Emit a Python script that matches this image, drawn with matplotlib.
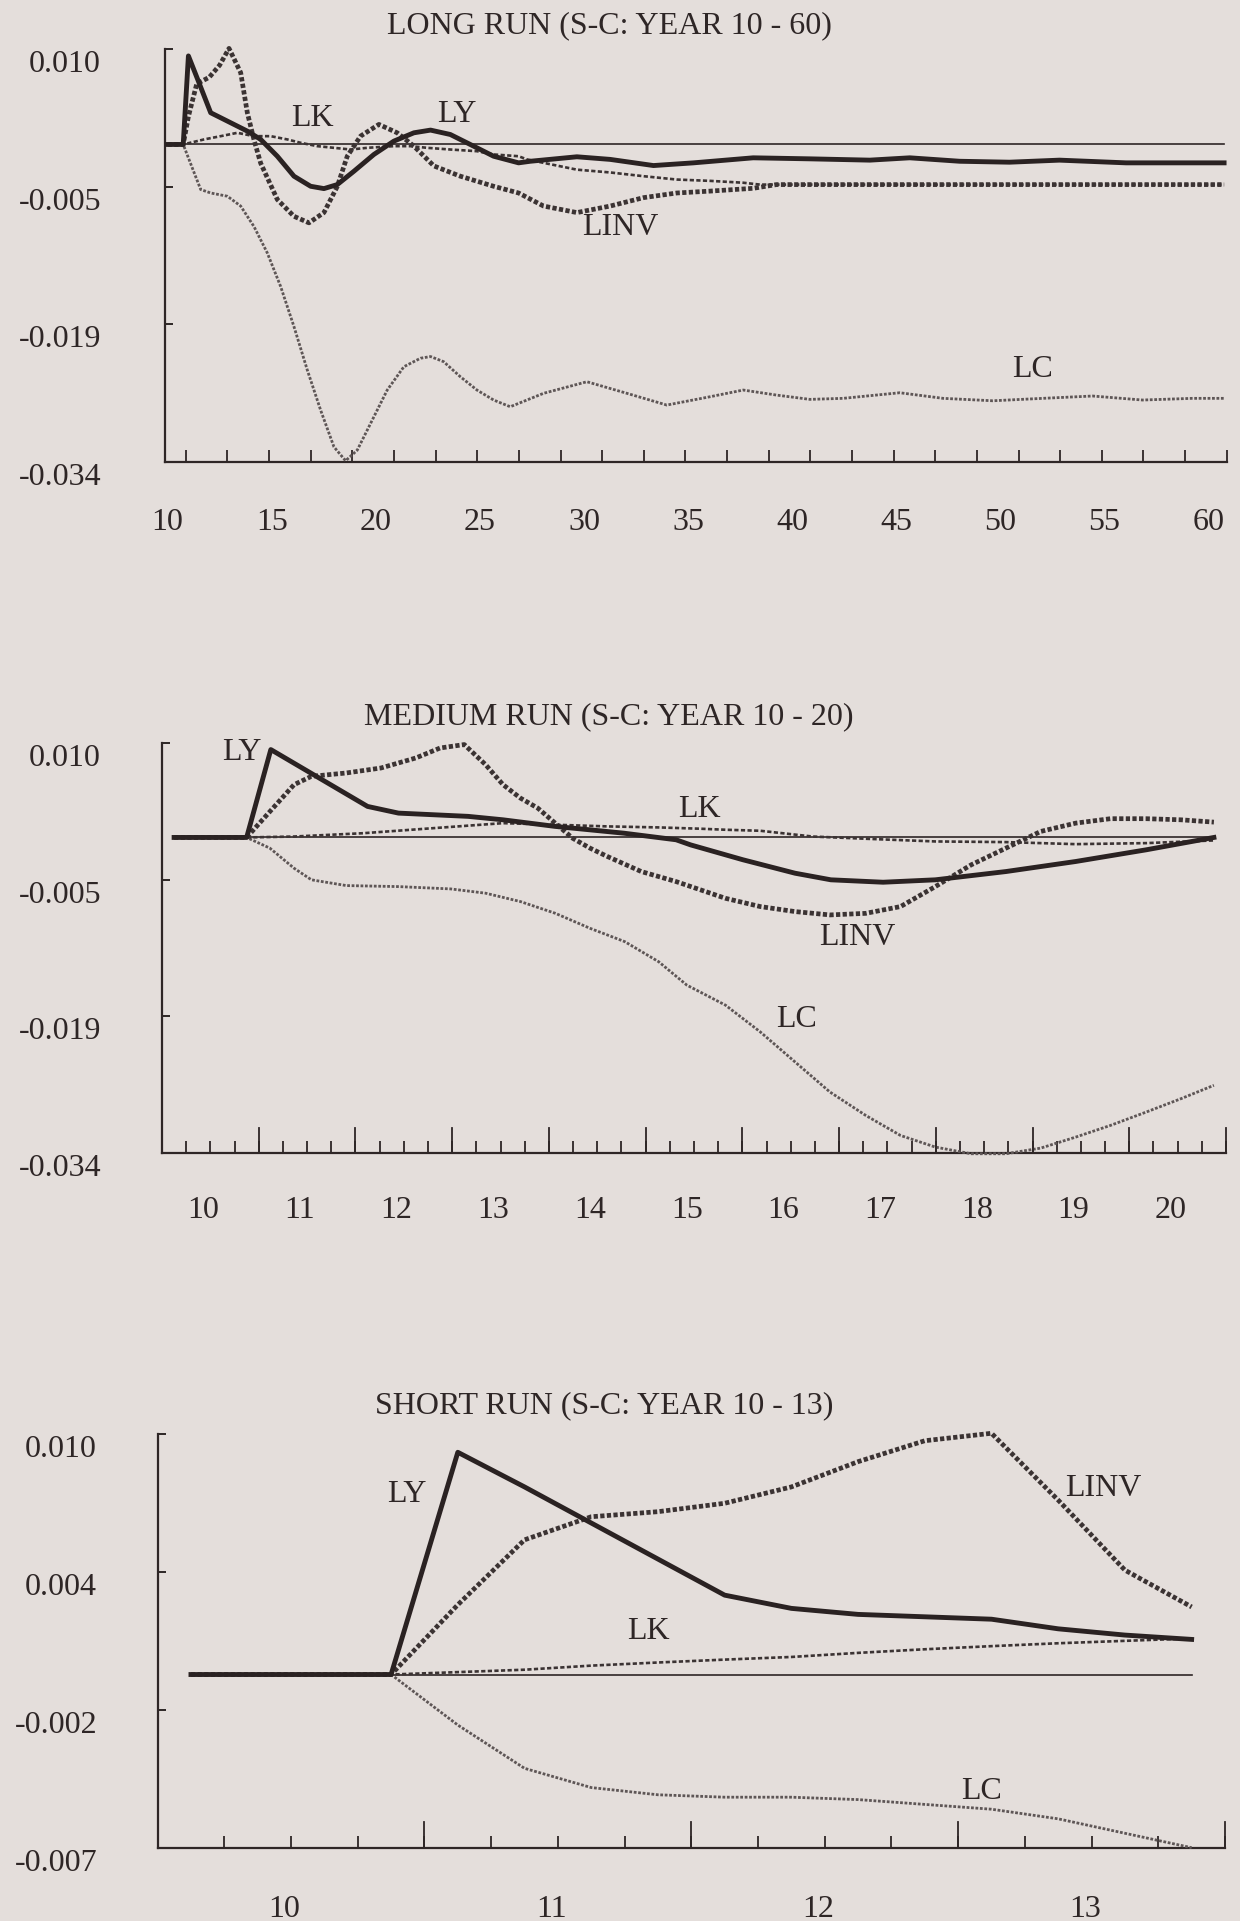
import numpy as np
import matplotlib
matplotlib.use("Agg")
import matplotlib.pyplot as plt
from matplotlib.transforms import ScaledTranslation

plt.rcParams['font.family'] = ['Liberation Serif', 'DejaVu Serif']

BG = '#e4dedb'
INK = '#2e2626'

# ---------------- DATA ----------------
# Long run (years 10-60)
long_title = "LONG RUN (S-C: YEAR 10 - 60)"
long_ly_x = [10.0, 10.75, 11.0, 11.44, 12.07, 12.875, 13.83, 14.47, 15.27, 16.07, 16.87, 17.51,
             18.15, 18.95, 19.91, 20.87, 21.83, 22.63, 23.58, 24.54, 25.66, 26.86, 27.42, 29.66,
             31.26, 33.34, 35.26, 38.13, 40.85, 43.73, 45.65, 48.05, 50.44, 52.84, 56.04, 60.75]
long_ly = [0, 0, 0.00949, 0.0070, 0.0034, 0.0025, 0.00143, 0.00054, -0.00126, -0.0034, -0.00448,
           -0.00473, -0.0043, -0.00287, -0.00107, 0.00036, 0.00125, 0.00154, 0.00107, 0.0, -0.00126,
           -0.00197, -0.0018, -0.00132, -0.0016, -0.00226, -0.00197, -0.00143, -0.00154, -0.00168,
           -0.00143, -0.0018, -0.0019, -0.00168, -0.00197, -0.00197]
long_linv_x = [10.0, 10.75, 11.0, 11.4, 12.0, 12.5, 12.95, 13.51, 13.83, 14.15, 14.47, 15.27, 16.07,
               16.79, 17.51, 18.15, 18.63, 19.27, 20.15, 21.03, 21.83, 22.79, 24.06, 25.66, 26.86,
               28.06, 29.66, 31.26, 32.86, 34.46, 36.05, 38.13, 39.25, 43.73, 50.0, 55.0, 60.75]
long_linv = [0, 0, 0.003, 0.0065, 0.0072, 0.0085, 0.0103, 0.0077, 0.0034, 0.0005, -0.002, -0.0059,
             -0.0077, -0.0084, -0.0073, -0.0045, -0.00126, 0.0009, 0.00215, 0.00125, -0.00018,
             -0.0023, -0.0034, -0.00448, -0.0052, -0.0066, -0.0073, -0.0066, -0.0057, -0.0052,
             -0.0050, -0.0047, -0.0043, -0.0043, -0.0043, -0.0043, -0.0043]
long_lk_x = [10.0, 10.75, 11.75, 12.55, 13.35, 14.15, 14.95, 15.75, 16.39, 17.19, 17.99, 18.79, 19.59,
             20.87, 21.67, 22.47, 23.58, 24.86, 25.66, 26.86, 27.26, 28.06, 29.66, 31.26, 32.86,
             34.46, 36.05, 37.65, 38.45, 45.0, 50.0, 55.0, 60.75]
long_lk = [0, 0, 0.00054, 0.00089, 0.00125, 0.00089, 0.00089, 0.00054, 0.00018, -0.00018, -0.00036,
           -0.00054, -0.00036, -0.00018, -0.00018, -0.00036, -0.00054, -0.00072, -0.00107, -0.00126,
           -0.0016, -0.00197, -0.0027, -0.003, -0.0034, -0.00376, -0.0039, -0.0041, -0.0043,
           -0.0043, -0.0043, -0.0043, -0.0043]
long_lc_x = [10.0, 10.75, 11.27, 11.59, 12.07, 12.875, 13.51, 14.15, 14.79, 15.43, 16.07, 16.71, 17.35,
             17.99, 18.55, 19.11, 19.75, 20.55, 21.35, 22.15, 22.63, 23.26, 24.06, 24.86, 25.66,
             26.46, 28.06, 30.14, 32.06, 33.98, 36.05, 37.65, 39.25, 40.85, 42.45, 45.17, 47.25,
             49.64, 52.04, 54.43, 56.83, 59.23, 60.75]
long_lc = [0, 0, -0.0030, -0.00483, -0.0052, -0.00555, -0.0066, -0.0088, -0.01163, -0.01522, -0.01952,
           -0.02417, -0.02847, -0.03241, -0.0339, -0.03276, -0.0299, -0.02632, -0.02382, -0.02291,
           -0.02273, -0.02328, -0.02489, -0.02632, -0.02739, -0.02811, -0.02667, -0.02543, -0.02667,
           -0.02793, -0.02704, -0.02632, -0.02686, -0.02732, -0.02721, -0.02661, -0.02721, -0.02747,
           -0.02721, -0.02696, -0.02739, -0.02721, -0.02721]
long_xlabels = [10, 15, 20, 25, 30, 35, 40, 45, 50, 55, 60]
long_ylabels = ['-0.034', '-0.019', '-0.005', '0.010']

# Medium run (years 10-20, quarterly)
med_title = "MEDIUM RUN (S-C: YEAR 10 - 20)"
med_ly_x = [10.0, 10.75, 11.0, 12.0, 12.32, 13.04, 13.40, 13.94, 14.65, 15.19, 15.34, 15.88, 16.42,
            16.79, 17.33, 17.87, 18.60, 19.32, 20.05, 20.75]
med_ly = [0, 0, 0.00946, 0.00334, 0.00262, 0.00227, 0.0019, 0.00119, 0.00046, -0.00025, -0.0008,
          -0.0024, -0.00385, -0.00456, -0.00482, -0.00456, -0.00367, -0.00259, -0.00133, 0.0]
med_linv_x = [10.0, 10.75, 11.0, 11.24, 11.42, 11.78, 12.14, 12.5, 12.75, 13.0, 13.22, 13.4, 13.58,
              13.76, 13.94, 14.12, 14.3, 14.48, 14.83, 15.19, 15.7, 16.06, 16.42, 16.78, 17.15,
              17.51, 17.87, 18.24, 18.6, 18.96, 19.32, 19.68, 20.05, 20.41, 20.75]
med_linv = [0, 0, 0.0029, 0.00568, 0.00658, 0.00694, 0.00748, 0.00856, 0.00963, 0.0100, 0.00784,
            0.00569, 0.00424, 0.00316, 0.00154, -0.00008, -0.00115, -0.00205, -0.00367, -0.00475,
            -0.00655, -0.00744, -0.00798, -0.00834, -0.00817, -0.00744, -0.00529, -0.00295,
            -0.00115, 0.00065, 0.00154, 0.00202, 0.00202, 0.0019, 0.00165]
med_lk_x = [10.0, 10.75, 11.24, 11.96, 12.68, 13.4, 13.94, 14.48, 15.01, 15.44, 15.7, 16.06, 16.6,
            17.15, 17.87, 18.6, 19.32, 20.05, 20.75]
med_lk = [0, 0, 0.0001, 0.00046, 0.001, 0.00154, 0.00137, 0.00119, 0.00108, 0.00094, 0.00083,
          0.00072, 0.0001, -0.00014, -0.00043, -0.0005, -0.00072, -0.00061, -0.00032]
med_lc_x = [10.0, 10.75, 10.99, 11.24, 11.42, 11.78, 12.32, 12.86, 13.22, 13.58, 13.94, 14.3, 14.66,
            15.01, 15.3, 15.7, 16.06, 16.42, 16.78, 17.15, 17.51, 17.87, 18.24, 18.6, 18.96, 19.32,
            19.68, 20.05, 20.41, 20.75]
med_lc = [0, 0, -0.00115, -0.00331, -0.00456, -0.00518, -0.00529, -0.00554, -0.006, -0.0069,
          -0.00816, -0.00978, -0.01122, -0.01338, -0.01589, -0.01805, -0.02093, -0.02417, -0.0274,
          -0.02992, -0.03208, -0.03333, -0.03405, -0.03405, -0.03344, -0.03226, -0.031, -0.02956,
          -0.02812, -0.02668]
med_xlabels = [10, 11, 12, 13, 14, 15, 16, 17, 18, 19, 20]
med_ylabels = ['-0.034', '-0.019', '-0.005', '0.010']

# Short run (years 10-13, quarterly 10Q1 .. 13Q4)
short_title = "SHORT RUN (S-C: YEAR 10 - 13)"
short_x = [10.0, 10.25, 10.5, 10.75, 11.0, 11.25, 11.5, 11.75, 12.0, 12.25, 12.5, 12.75,
           13.0, 13.25, 13.5, 13.75]
short_ly = [0, 0, 0, 0, 0.00924, 0.0078, 0.0063, 0.0048, 0.0033, 0.00275, 0.0025, 0.0024,
            0.0023, 0.0019, 0.00164, 0.00146]
short_linv = [0, 0, 0, 0, 0.0029, 0.0056, 0.00656, 0.00677, 0.00712, 0.0078, 0.00885, 0.00972,
              0.01003, 0.00725, 0.00434, 0.00281]
short_lk = [0, 0, 0, 0, 0.0001, 0.0002, 0.00037, 0.0005, 0.00062, 0.00073, 0.0009, 0.00105,
            0.00118, 0.0013, 0.0014, 0.0015]
short_lc = [0, 0, 0, 0, -0.0021, -0.0039, -0.0047, -0.0050, -0.0051, -0.0051, -0.0052, -0.0054,
            -0.0056, -0.0060, -0.0066, -0.0072]
short_xlabels = [10, 11, 12, 13]
short_ylabels = ['-0.007', '-0.002', '0.004', '0.010']

series_names = ['LY', 'LINV', 'LK', 'LC']

# ---------------- STYLE ----------------
STYLES = {
    'LC':   dict(color='#5e5656', lw=2.0, ls=(0, (1.0, 0.6))),
    'LK':   dict(color='#3b3333', lw=1.9, ls=(0, (1.6, 0.9))),
    'LINV': dict(color='#3b3333', lw=3.4, ls=(0, (0.9, 0.5))),
    'LY':   dict(color='#2a2222', lw=3.5, ls='-'),
}
FS = 23

fig = plt.figure(figsize=(12.4, 19.21), dpi=100, facecolor=BG)


def panel(rect, title, title_xy, data, ylim, ylabels, xlim, xlabels, xlabel_shift,
          ticks, major_ticks, labels_pos, ypad, xpad):
    ax = fig.add_axes(rect)
    ax.set_facecolor(BG)
    ax.patch.set_alpha(0)
    for s in ['top', 'right']:
        ax.spines[s].set_visible(False)
    for s in ['left', 'bottom']:
        ax.spines[s].set_color(INK)
        ax.spines[s].set_linewidth(1.6)
    ax.set_xlim(*xlim)
    ax.set_ylim(*ylim)

    # zero line
    x_end = max(max(d[0]) for d in data.values())
    ax.plot([10.0, x_end], [0, 0], color=INK, lw=1.2, zorder=2)
    for name in ['LC', 'LK', 'LINV', 'LY']:
        xs, ys = data[name]
        st = STYLES[name]
        ax.plot(xs, ys, color=st['color'], lw=st['lw'], linestyle=st['ls'],
                solid_joinstyle='round', dash_capstyle='butt', zorder=3, clip_on=False)

    # y ticks
    ax.set_yticks(np.linspace(ylim[0], ylim[1], 4))
    ax.set_yticklabels(ylabels)
    ax.tick_params(axis='y', direction='in', length=6, width=1.4, color=INK,
                   labelsize=FS, labelcolor=INK, pad=ypad)
    off = ScaledTranslation(0, -12 / 100, fig.dpi_scale_trans)
    for lab in ax.get_yticklabels():
        lab.set_transform(lab.get_transform() + off)
        lab.set_horizontalalignment('right')

    # x ticks: marks as minor ticks, labels as major ticks with zero length
    ax.set_xticks(ticks, minor=True)
    ax.tick_params(axis='x', which='minor', direction='in', length=9, width=1.3, color=INK)
    ax.set_xticks([v + xlabel_shift for v in xlabels])
    ax.set_xticklabels([str(v) for v in xlabels])
    ax.tick_params(axis='x', which='major', length=0, labelsize=FS, labelcolor=INK, pad=xpad)
    for mt in major_ticks:
        ax.plot([mt, mt], [0, 0.062], transform=ax.get_xaxis_transform(), color=INK,
                lw=1.3, clip_on=False, zorder=4)

    for name, (lx, ly) in labels_pos.items():
        ax.text(lx, ly, name, fontsize=FS, color=INK, ha='center', va='center', zorder=5)

    fig.text(title_xy[0], title_xy[1], title, fontsize=FS, color=INK, ha='center', va='center')
    return ax


H = 1921.0
W = 1240.0

# Long run
panel(rect=[165 / W, (H - 461.7) / H, 1061.7 / W, 412.4 / H],
      title=long_title, title_xy=(609 / W, 1 - 26 / H),
      data={'LY': (long_ly_x, long_ly), 'LINV': (long_linv_x, long_linv),
            'LK': (long_lk_x, long_lk), 'LC': (long_lc_x, long_lc)},
      ylim=(-0.034, 0.0102), ylabels=long_ylabels,
      xlim=(9.875, 60.875), xlabels=long_xlabels, xlabel_shift=0.0,
      ticks=np.arange(10.875, 60.9, 2.0), major_ticks=[],
      labels_pos={'LK': (16.96, 0.00273), 'LY': (23.89, 0.00316),
                  'LINV': (31.77, -0.00895), 'LC': (51.55, -0.02407)},
      ypad=(165 - 101) / 1.389, xpad=33)

# Medium run
panel(rect=[162 / W, (H - 1153.3) / H, 1064 / W, 410.6 / H],
      title=med_title, title_xy=(609 / W, 1 - 717 / H),
      data={'LY': (med_ly_x, med_ly), 'LINV': (med_linv_x, med_linv),
            'LK': (med_lk_x, med_lk), 'LC': (med_lc_x, med_lc)},
      ylim=(-0.034, 0.0102), ylabels=med_ylabels,
      xlim=(9.875, 20.875), xlabels=med_xlabels, xlabel_shift=0.3,
      ticks=np.arange(10.125, 20.9, 0.25), major_ticks=np.arange(10.875, 20.9, 1.0),
      labels_pos={'LY': (10.70, 0.0091), 'LK': (15.43, 0.00306),
                  'LINV': (17.06, -0.01077), 'LC': (16.44, -0.01965)},
      ypad=(162 - 101) / 1.389, xpad=31)

# Short run
panel(rect=[157.6 / W, (H - 1847.7) / H, 1067.4 / W, 413.7 / H],
      title=short_title, title_xy=(604 / W, 1 - 1406 / H),
      data={'LY': (short_x, short_ly), 'LINV': (short_x, short_linv),
            'LK': (short_x, short_lk), 'LC': (short_x, short_lc)},
      ylim=(-0.0072, 0.010), ylabels=short_ylabels,
      xlim=(9.875, 13.875), xlabels=short_xlabels, xlabel_shift=0.35,
      ticks=np.arange(10.125, 13.9, 0.25), major_ticks=np.arange(10.875, 13.9, 1.0),
      labels_pos={'LY': (10.81, 0.0075), 'LK': (11.713, 0.00178),
                  'LINV': (13.42, 0.00775), 'LC': (12.964, -0.00487)},
      ypad=(157.6 - 97) / 1.389, xpad=34)

fig.savefig('out.png', dpi=100, facecolor=BG)
